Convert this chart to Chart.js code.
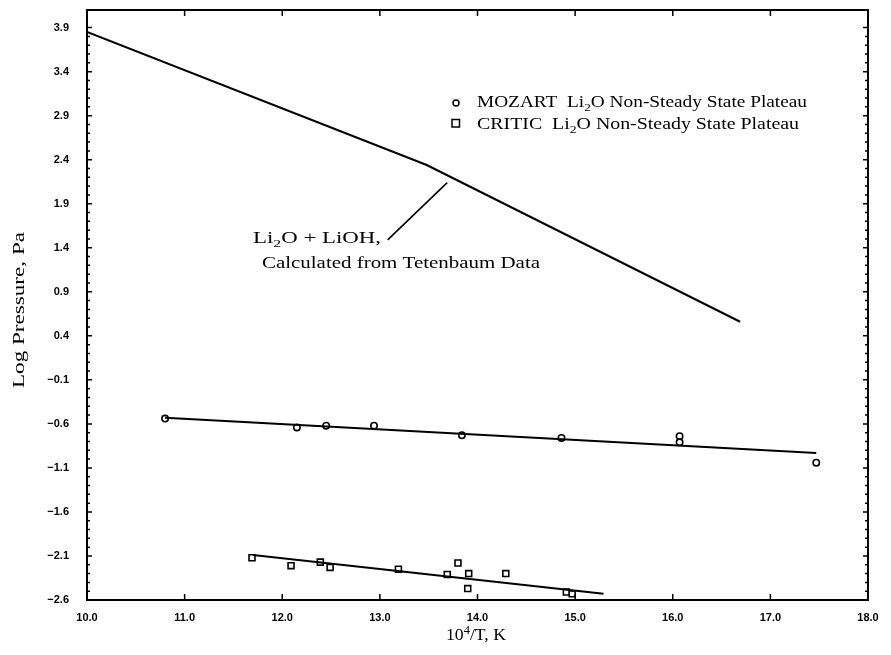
<!DOCTYPE html>
<html>
<head>
<meta charset="utf-8">
<script src="https://cdn.jsdelivr.net/npm/chart.js@4.4.1/dist/chart.umd.min.js"></script>
<style>
  html, body { margin: 0; padding: 0; background: #fff; }
  #wrap { width: 891px; height: 655px; }
</style>
</head>
<body>
<div id="wrap"><canvas id="c" width="891" height="655"></canvas></div>
<script>
// Axis ticks
const xTicks = [10, 11, 12, 13, 14, 15, 16, 17, 18];
const yTicks = [3.9, 3.4, 2.9, 2.4, 1.9, 1.4, 0.9, 0.4, -0.1, -0.6, -1.1, -1.6, -2.1, -2.6];

// Li2O + LiOH curve calculated from Tetenbaum data
const tetenX = [10.0, 13.48, 16.69];
const tetenY = [3.85, 2.34, 0.56];

// MOZART measurements (10^4/T, log P)
const mozartX = [10.80, 12.15, 12.45, 12.94, 13.84, 14.86, 16.07, 16.07, 17.47];
const mozartY = [-0.54, -0.64, -0.62, -0.62, -0.73, -0.76, -0.74, -0.81, -1.04];
const mozartFitX = [10.80, 17.47];
const mozartFitY = [-0.53, -0.93];

// CRITIC measurements (10^4/T, log P)
const criticX = [11.69, 12.09, 12.39, 12.49, 13.19, 13.69, 13.80, 13.91, 13.90, 14.29, 14.91, 14.97];
const criticY = [-2.12, -2.21, -2.17, -2.23, -2.25, -2.31, -2.18, -2.30, -2.47, -2.30, -2.51, -2.53];
const criticFitX = [11.70, 15.29];
const criticFitY = [-2.09, -2.53];

// Leader line from the curve label to the curve
const leaderX = [13.08, 13.69];
const leaderY = [1.49, 2.14];

const pts = (xs, ys) => xs.map((x, i) => ({ x: x, y: ys[i] }));

const SERIF = '"Liberation Serif", "Times New Roman", serif';
const SANS = '"Liberation Sans", Arial, sans-serif';

// Draws text made of normal / subscript / superscript runs, stretched to a given width
function drawRich(ctx, parts, x, y, size, width, align) {
  const small = Math.round(size * 0.68);
  let total = 0;
  parts.forEach(p => {
    ctx.font = (p[1] === 'n' ? size : small) + 'px ' + SERIF;
    total += ctx.measureText(p[0]).width;
  });
  const sx = width ? width / total : 1;
  ctx.save();
  ctx.translate(x - (align === 'center' ? total * sx / 2 : 0), y);
  ctx.scale(sx, 1);
  ctx.textBaseline = 'alphabetic';
  ctx.textAlign = 'left';
  ctx.fillStyle = '#000';
  let cx = 0;
  parts.forEach(p => {
    let dy = 0;
    if (p[1] === 'sub') dy = size * 0.22;
    if (p[1] === 'sup') dy = -size * 0.38;
    ctx.font = (p[1] === 'n' ? size : small) + 'px ' + SERIF;
    ctx.fillText(p[0], cx, dy);
    cx += ctx.measureText(p[0]).width;
  });
  ctx.restore();
}

const decor = {
  id: 'decor',
  afterDraw(chart) {
    const ctx = chart.ctx;
    const a = chart.chartArea;
    const xs = chart.scales.x, ys = chart.scales.y;
    ctx.save();
    ctx.strokeStyle = '#000';
    // frame
    ctx.lineWidth = 2;
    ctx.strokeRect(a.left, a.top, a.right - a.left, a.bottom - a.top);
    // inward ticks on top and bottom
    ctx.lineWidth = 1.5;
    ctx.beginPath();
    xTicks.forEach(v => {
      const px = xs.getPixelForValue(v);
      ctx.moveTo(px, a.bottom); ctx.lineTo(px, a.bottom - 6);
      ctx.moveTo(px, a.top); ctx.lineTo(px, a.top + 6);
    });
    // inward ticks on left and right: major every 0.5, minor every 0.1
    for (let k = 0; k <= 65; k++) {
      const v = -2.6 + k * 0.1;
      const len = (k % 5 === 0) ? 5 : 3;
      const py = ys.getPixelForValue(v);
      ctx.moveTo(a.left, py); ctx.lineTo(a.left + len, py);
      ctx.moveTo(a.right, py); ctx.lineTo(a.right - len, py);
    }
    ctx.stroke();

    // legend
    ctx.lineWidth = 1.5;
    ctx.fillStyle = '#fff';
    ctx.beginPath();
    ctx.arc(456, 103, 3, 0, Math.PI * 2);
    ctx.fill(); ctx.stroke();
    ctx.beginPath();
    ctx.rect(452, 119.5, 7.5, 7.5);
    ctx.fill(); ctx.stroke();
    drawRich(ctx, [['MOZART  Li', 'n'], ['2', 'sub'], ['O Non-Steady State Plateau', 'n']], 477, 107, 16, 330);
    drawRich(ctx, [['CRITIC  Li', 'n'], ['2', 'sub'], ['O Non-Steady State Plateau', 'n']], 477, 129, 16, 322);

    // curve label
    drawRich(ctx, [['Li', 'n'], ['2', 'sub'], ['O + LiOH,', 'n']], 253, 243, 16, 128);
    drawRich(ctx, [['Calculated from Tetenbaum Data', 'n']], 262, 268, 16, 278);

    // axis titles
    drawRich(ctx, [['10', 'n'], ['4', 'sup'], ['/T, K', 'n']], 476, 640, 17, 60, 'center');
    ctx.save();
    ctx.translate(24, 310);
    ctx.rotate(-Math.PI / 2);
    drawRich(ctx, [['Log Pressure, Pa', 'n']], 0, 0, 17, 156, 'center');
    ctx.restore();
    ctx.restore();
  }
};

new Chart(document.getElementById('c'), {
  type: 'scatter',
  data: {
    datasets: [
      {
        label: 'Li2O + LiOH, Calculated from Tetenbaum Data',
        data: pts(tetenX, tetenY), showLine: true, pointRadius: 0,
        borderColor: '#000', borderWidth: 2, order: 1
      },
      {
        label: 'MOZART fit',
        data: pts(mozartFitX, mozartFitY), showLine: true, pointRadius: 0,
        borderColor: '#000', borderWidth: 2, order: 1
      },
      {
        label: 'CRITIC fit',
        data: pts(criticFitX, criticFitY), showLine: true, pointRadius: 0,
        borderColor: '#000', borderWidth: 2, order: 1
      },
      {
        label: 'leader',
        data: pts(leaderX, leaderY), showLine: true, pointRadius: 0,
        borderColor: '#000', borderWidth: 1.6, order: 1
      },
      {
        label: 'MOZART Li2O Non-Steady State Plateau',
        data: pts(mozartX, mozartY), pointStyle: 'circle', pointRadius: 3.2,
        borderColor: '#000', backgroundColor: '#fff', pointBorderWidth: 1.6, order: 2
      },
      {
        label: 'CRITIC Li2O Non-Steady State Plateau',
        data: pts(criticX, criticY), pointStyle: 'rect', pointRadius: 4.2,
        borderColor: '#000', backgroundColor: '#fff', pointBorderWidth: 1.6, order: 2
      }
    ]
  },
  options: {
    responsive: false,
    animation: false,
    layout: { padding: { left: 0, right: 23, top: 10, bottom: 0 } },
    plugins: { legend: { display: false }, tooltip: { enabled: false } },
    scales: {
      x: {
        type: 'linear', min: 10, max: 18,
        afterBuildTicks: s => { s.ticks = xTicks.map(v => ({ value: v })); },
        afterFit: s => { s.height = 55; s.paddingLeft = 0; s.paddingRight = 0; },
        grid: { display: false, drawTicks: false },
        border: { display: false },
        ticks: {
          padding: 11, color: '#000',
          font: { family: SANS, size: 11, weight: 'bold' },
          callback: v => Number(v).toFixed(1)
        }
      },
      y: {
        type: 'linear', min: -2.6, max: 4.1,
        afterBuildTicks: s => { s.ticks = yTicks.map(v => ({ value: v })); },
        afterFit: s => { s.width = 87; s.paddingTop = 0; s.paddingBottom = 0; },
        grid: { display: false, drawTicks: false },
        border: { display: false },
        ticks: {
          padding: 18, color: '#000',
          font: { family: SANS, size: 11, weight: 'bold' },
          callback: v => (v < 0 ? '\u2212' : '') + Math.abs(v).toFixed(1)
        }
      }
    }
  },
  plugins: [decor]
});
</script>
</body>
</html>
